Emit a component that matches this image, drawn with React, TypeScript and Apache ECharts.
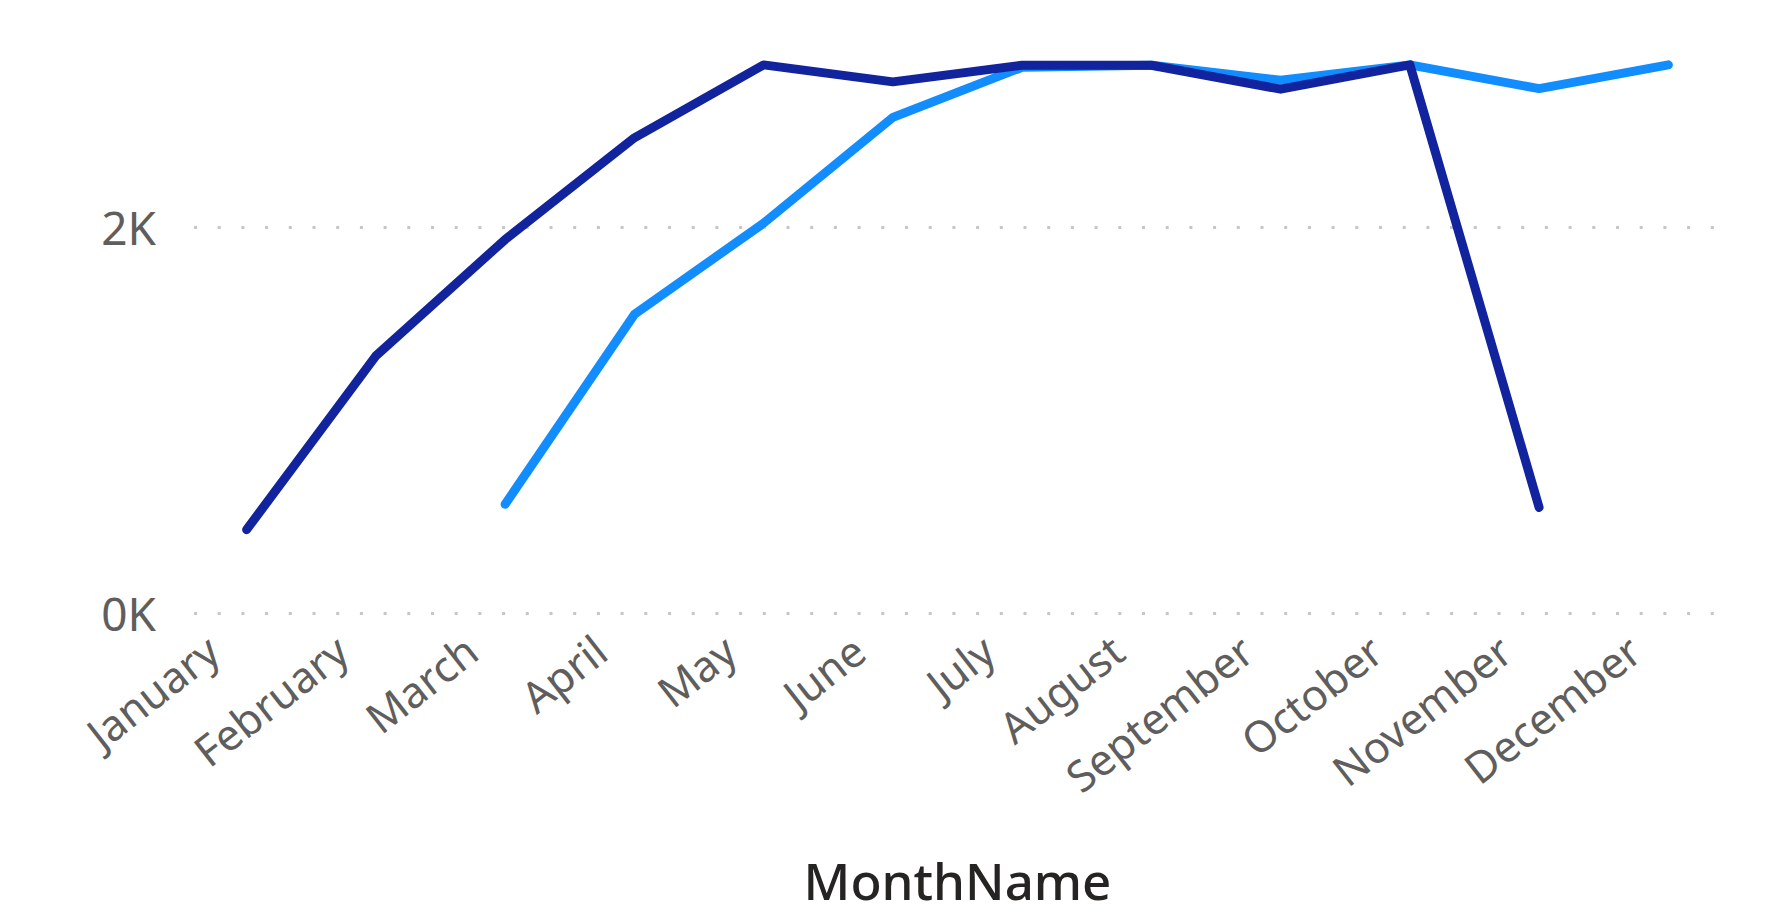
import React, { useEffect, useRef } from "react";
import * as echarts from "echarts";

const months = ["January","February","March","April","May","June","July","August","September","October","November","December"];
const seriesLightName = "Light";
const seriesLight: (number | null)[] = [null, null, 563, 1547, 2020, 2568, 2828, 2838, 2760, 2840, 2717, 2840];
const seriesDarkName = "Dark";
const seriesDark: (number | null)[] = [432, 1332, 1935, 2462, 2840, 2752, 2838, 2838, 2714, 2840, 547, null];
const yTicks = [0, 2000];
const yMax = 3000;
const xTitle = "MonthName";

export default function App() {
  const ref = useRef<HTMLDivElement>(null);
  useEffect(() => {
    if (!ref.current) return;
    const chart = echarts.init(ref.current, null, { renderer: "svg" });
    const font = "'Noto Sans', sans-serif";
    chart.setOption({
      animation: false,
      backgroundColor: "#ffffff",
      grid: [
        { left: 194, right: 54, top: 613 - 3 * 193, height: 3 * 193, containLabel: false },
        { left: 182, right: 35, top: 613 - 3 * 193, height: 3 * 193, containLabel: false },
      ],
      xAxis: [
        { type: "category", gridIndex: 0, data: months, show: false },
        {
          type: "category",
          gridIndex: 1,
          data: months,
          boundaryGap: true,
          axisLine: { show: false },
          axisTick: { show: false },
          axisLabel: {
            rotate: 38,
            color: "#605E5C",
            fontSize: 43,
            fontFamily: font,
            margin: 5,
            padding: [0, 43, 0, 0],
            interval: 0,
          },
          name: xTitle,
          nameLocation: "middle",
          nameGap: 241,
          nameTextStyle: { color: "#252423", fontSize: 51, fontFamily: font, fontWeight: 500 },
        },
      ],
      yAxis: [
        {
          type: "value",
          gridIndex: 0,
          min: yTicks[0],
          max: yMax,
          interval: yTicks[1] - yTicks[0],
          axisLine: { show: false },
          axisTick: { show: false },
          axisLabel: {
            showMaxLabel: false,
            color: "#605E5C",
            fontSize: 46,
            fontFamily: font,
            margin: 38,
            formatter: (v: number) => `${v / 1000}K`,
          },
          splitLine: {
            show: true,
            showMaxLine: false,
            lineStyle: { color: "#C8C6C4", width: 3, type: [3, 20.7] },
          },
        },
        {
          type: "value",
          gridIndex: 1,
          min: yTicks[0],
          max: yMax,
          show: false,
          splitLine: { show: false },
        },
      ],
      series: [
        {
          name: seriesLightName,
          type: "line",
          xAxisIndex: 1,
          yAxisIndex: 1,
          data: seriesLight,
          showSymbol: false,
          symbol: "none",
          lineStyle: { color: "#118DFF", width: 9, cap: "round", join: "round" },
          itemStyle: { color: "#118DFF" },
        },
        {
          name: seriesDarkName,
          type: "line",
          xAxisIndex: 1,
          yAxisIndex: 1,
          data: seriesDark,
          showSymbol: false,
          symbol: "none",
          lineStyle: { color: "#12239E", width: 9, cap: "round", join: "round" },
          itemStyle: { color: "#12239E" },
        },
      ],
    });
    return () => chart.dispose();
  }, []);
  return (
    <div
      ref={ref}
      style={{ position: "absolute", left: 0, top: 0, width: 1768, height: 919, background: "#fff" }}
    />
  );
}
